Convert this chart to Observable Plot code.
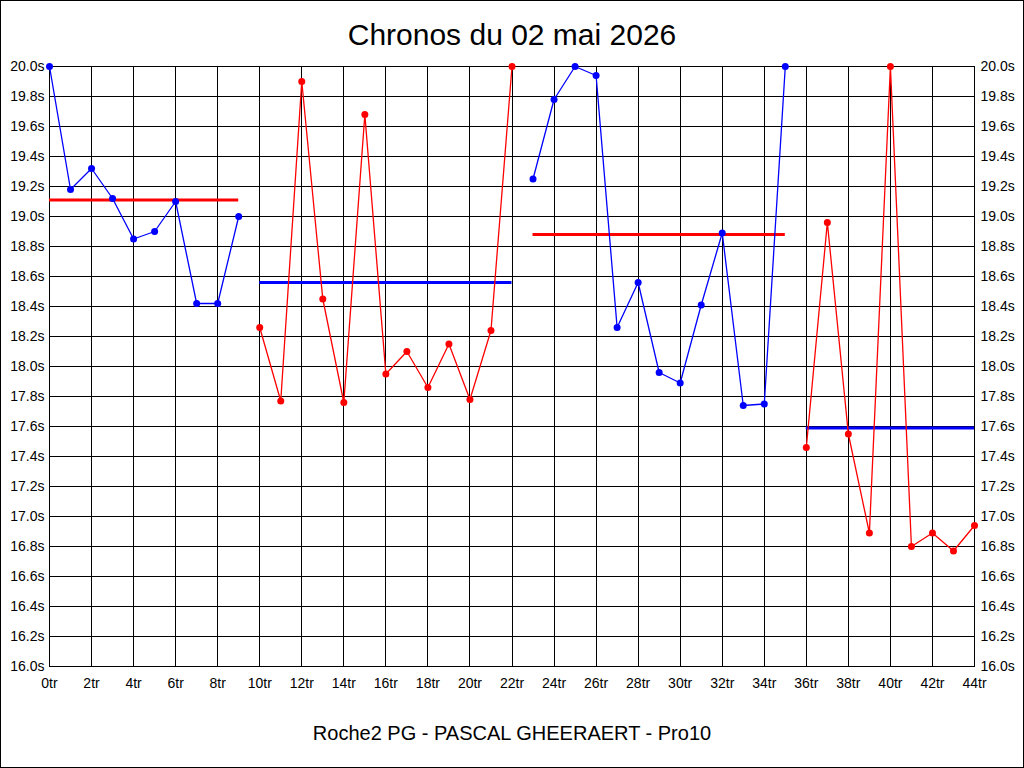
<!DOCTYPE html>
<html><head><meta charset="utf-8">
<script src="https://cdn.jsdelivr.net/npm/d3@7"></script>
<script src="https://cdn.jsdelivr.net/npm/@observablehq/plot@0.6"></script>
<style>
body{margin:0;background:#fff;}
#wrap{position:relative;width:1024px;height:768px;overflow:hidden;background:#fff;font-family:"Liberation Sans",Arial,sans-serif;color:#000;}
#title{position:absolute;left:0;top:0;width:1024px;height:50px;box-sizing:border-box;padding-top:20px;font-size:30px;line-height:30px;text-align:center;}
#chart{position:absolute;left:0;top:50px;}
#caption{position:absolute;left:0;top:723px;width:1024px;font-size:20px;line-height:20px;text-align:center;}
#border{position:absolute;left:0;top:0;width:1024px;height:768px;box-sizing:border-box;border:1px solid #000;pointer-events:none;}
</style>
</head><body>
<div id="wrap">
  <div id="title">Chronos du 02 mai 2026</div>
  <div id="chart"></div>
  <div id="caption">Roche2 PG - PASCAL GHEERAERT - Pro10</div>
  <div id="border"></div>
</div>
<script>
// Lap times (s), laps 0..44
const laps = d3.range(0, 45);
const times = [
  20.00, 19.18, 19.32, 19.12, 18.85, 18.90, 19.10, 18.42, 18.42, 19.00,
  18.26, 17.77, 19.90, 18.45, 17.76, 19.68, 17.95, 18.10, 17.86, 18.15, 17.78, 18.24, 20.00,
  19.25, 19.78, 20.00, 19.94, 18.26, 18.56, 17.96, 17.89, 18.41, 18.89, 17.74, 17.75, 20.00,
  17.46, 18.96, 17.55, 16.89, 20.00, 16.80, 16.89, 16.77, 16.94
];
// Relay segments
const segStart = [0, 10, 23, 36];
const segEnd = [9, 22, 35, 44];
const segColor = ["#0000ff", "#ff0000", "#0000ff", "#ff0000"];
// Segment average lines
const avgValue = [19.11, 18.56, 18.88, 17.59];
const avgColor = ["#ff0000", "#0000ff", "#ff0000", "#0000ff"];
// Ticks
const xTicks = d3.range(0, 45, 2);
const yTicks = d3.range(0, 21).map(i => +(16 + i * 0.2).toFixed(1));

const segOf = l => segStart.findIndex((s, i) => l >= s && l <= segEnd[i]);
const pts = laps.map((l, i) => ({lap: l, t: times[i], seg: segOf(l), color: segColor[segOf(l)]}));
const avgs = segStart.map((s, i) => ({x1: s, x2: segEnd[i], y: avgValue[i], color: avgColor[i]}));

const plot = Plot.plot({
  width: 1024,
  height: 652,
  marginTop: 16,
  marginBottom: 36,
  marginLeft: 49,
  marginRight: 50,
  style: {fontFamily: '"Liberation Sans", Arial, sans-serif', fontSize: "14px", background: "transparent", color: "#000"},
  x: {domain: [0, 44], ticks: xTicks, tickFormat: d => d + "tr"},
  y: {domain: [16, 20], ticks: yTicks, tickFormat: d => d.toFixed(1) + "s"},
  marks: [
    Plot.ruleX(xTicks, {stroke: "#000", strokeWidth: 1, strokeOpacity: 1, shapeRendering: "crispEdges"}),
    Plot.ruleY(yTicks, {stroke: "#000", strokeWidth: 1, strokeOpacity: 1, shapeRendering: "crispEdges"}),
    Plot.frame({stroke: "#000", strokeWidth: 1, shapeRendering: "crispEdges"}),
    Plot.axisX({ticks: xTicks, tickFormat: d => d + "tr", tickSize: 0, tickPadding: 12, fontSize: 14, label: null}),
    Plot.axisY({anchor: "left", ticks: yTicks, tickFormat: d => d.toFixed(1) + "s", tickSize: 0, tickPadding: 5, fontSize: 14, label: null}),
    Plot.axisY({anchor: "right", ticks: yTicks, tickFormat: d => d.toFixed(1) + "s", tickSize: 0, tickPadding: 6, fontSize: 14, label: null}),
    Plot.ruleY(avgs, {x1: "x1", x2: "x2", y: "y", stroke: d => d.color, strokeWidth: 3}),
    Plot.line(pts, {x: "lap", y: "t", z: "seg", stroke: d => d.color, strokeWidth: 1.3}),
    Plot.dot(pts, {x: "lap", y: "t", r: 3.5, fill: d => d.color, stroke: "none"})
  ]
});
document.getElementById("chart").appendChild(plot);
</script>
</body></html>
